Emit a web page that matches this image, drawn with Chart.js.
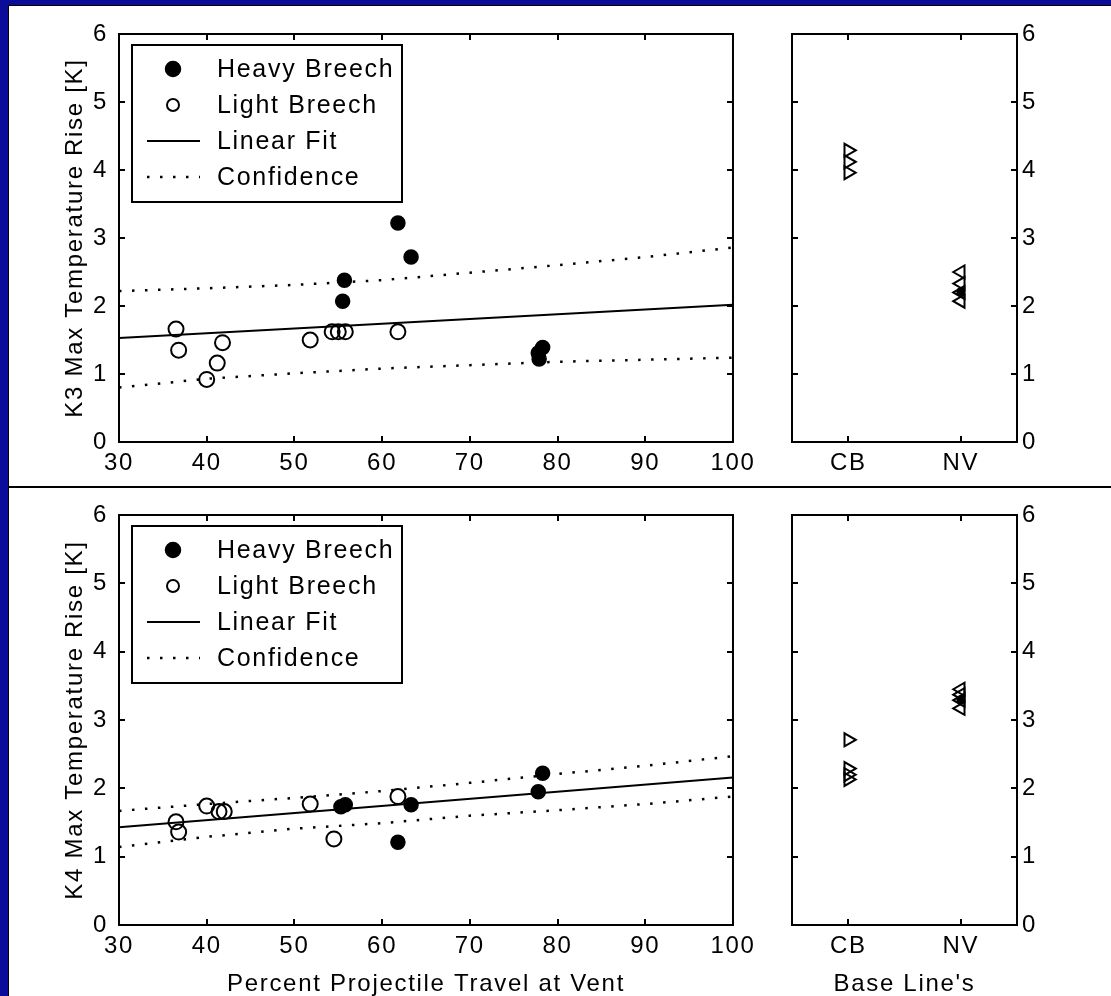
<!DOCTYPE html>
<html lang="en">
<head>
    <meta charset="UTF-8">
    <title>K3 / K4 Max Temperature Rise</title>
    <style>
        html, body {
            margin: 0;
            padding: 0;
        }

        body {
            width: 1111px;
            height: 996px;
            position: relative;
            overflow: hidden;
            background-color: #0c0c9a;
        }

        .sheet {
            position: absolute;
            left: 8px;
            top: 5px;
            right: 0;
            bottom: 0;
            background-color: #fff;
            border-top: 1px solid #000;
            border-left: 1px solid #000;
        }

        .divider {
            position: absolute;
            left: 8px;
            right: 0;
            top: 486px;
            height: 2px;
            background-color: #000;
        }

        canvas {
            position: absolute;
        }

        #k3Main { left: 0; top: 0; }
        #k3Base { left: 760px; top: 0; }
        #k4Main { left: 0; top: 487px; }
        #k4Base { left: 760px; top: 487px; }
    </style>
</head>
<body>
    <div class="sheet"></div>
    <div class="divider"></div>

    <canvas id="k3Main" width="760" height="487"></canvas>
    <canvas id="k3Base" width="351" height="487"></canvas>
    <canvas id="k4Main" width="760" height="509"></canvas>
    <canvas id="k4Base" width="351" height="509"></canvas>

    <script src="https://cdn.jsdelivr.net/npm/chart.js"></script>
    <script>
        // tick labels
        var percentTicks = [30, 40, 50, 60, 70, 80, 90, 100];
        var tempTicks = [0, 1, 2, 3, 4, 5, 6];
        var baseCats = ['CB', 'NV'];

        // K3 (top) - percent projectile travel at vent vs temperature rise
        var k3HeavyX = [55.5, 55.7, 61.8, 63.3, 77.8, 78.3, 77.9];
        var k3HeavyY = [2.07, 2.38, 3.22, 2.72, 1.31, 1.39, 1.22];
        var k3LightX = [36.5, 36.8, 40.0, 41.2, 41.8, 51.8, 54.3, 55.0, 55.8, 61.8];
        var k3LightY = [1.66, 1.35, 0.92, 1.16, 1.46, 1.50, 1.62, 1.62, 1.62, 1.62];

        // K4 (bottom)
        var k4HeavyX = [55.3, 55.8, 61.8, 63.3, 78.3, 77.8];
        var k4HeavyY = [1.73, 1.76, 1.21, 1.76, 2.22, 1.95];
        var k4LightX = [36.5, 36.8, 40.0, 41.4, 42.0, 51.8, 54.5, 61.8];
        var k4LightY = [1.51, 1.36, 1.74, 1.66, 1.66, 1.77, 1.26, 1.88];

        // linear fits
        var fitX = [30, 100];
        var k3FitY = [1.53, 2.02];
        var k4FitY = [1.43, 2.16];

        // confidence bands (read at every 10 %)
        var confX = [30, 40, 50, 60, 70, 80, 90, 100];
        var k3UpperY = [2.22, 2.26, 2.31, 2.38, 2.49, 2.60, 2.72, 2.86];
        var k3LowerY = [0.80, 0.93, 1.01, 1.08, 1.13, 1.18, 1.21, 1.24];
        var k4UpperY = [1.67, 1.77, 1.86, 1.96, 2.08, 2.21, 2.33, 2.47];
        var k4LowerY = [1.14, 1.29, 1.41, 1.49, 1.60, 1.68, 1.77, 1.88];

        // base line runs (CB = 1, NV = 2)
        var k3CbY = [4.29, 4.12, 3.96];
        var k3NvY = [2.50, 2.33, 2.20, 2.07];
        var k3NvFilledY = [2.21];
        var k4CbY = [2.71, 2.29, 2.20, 2.13];
        var k4NvY = [3.45, 3.37, 3.29, 3.17];
        var k4NvFilledY = [3.30];

        var fontFamily = 'Arial, "Liberation Sans", sans-serif';
        Chart.defaults.color = '#000';
        Chart.defaults.font.family = fontFamily;

        function pts(xs, ys) {
            return xs.map(function (x, i) { return { x: x, y: ys[i] }; });
        }

        function fixedTicks(list) {
            return function (scale) {
                scale.ticks = list.map(function (v) { return { value: v }; });
            };
        }

        // the old bitmap font is wider than Arial
        var wideText = {
            id: 'wideText',
            beforeDraw: function (chart) {
                chart.ctx.letterSpacing = '1.7px';
            }
        };

        // box + inward tick marks, matlab style
        var matlabFrame = {
            id: 'matlabFrame',
            afterDatasetsDraw: function (chart) {
                var ctx = chart.ctx;
                var a = chart.chartArea;
                var xs = chart.scales.x;
                var ys = chart.scales.y;
                ctx.save();
                ctx.strokeStyle = '#000';
                ctx.lineWidth = 2;
                ctx.beginPath();
                xs.ticks.forEach(function (t) {
                    var px = Math.round(xs.getPixelForValue(t.value));
                    ctx.moveTo(px, a.bottom);
                    ctx.lineTo(px, a.bottom - 6);
                    ctx.moveTo(px, a.top);
                    ctx.lineTo(px, a.top + 6);
                });
                ys.ticks.forEach(function (t) {
                    var py = Math.round(ys.getPixelForValue(t.value));
                    ctx.moveTo(a.left, py);
                    ctx.lineTo(a.left + 6, py);
                    ctx.moveTo(a.right, py);
                    ctx.lineTo(a.right - 6, py);
                });
                ctx.stroke();
                ctx.strokeRect(a.left, a.top, a.right - a.left, a.bottom - a.top);
                ctx.restore();
            }
        };

        // legend box in the upper left corner of the axes
        var matlabLegend = {
            id: 'matlabLegend',
            afterDraw: function (chart, args, opts) {
                if (!opts.show) return;
                var ctx = chart.ctx;
                var a = chart.chartArea;
                var bx = a.left + 13, by = a.top + 11, bw = 270, bh = 157;
                var rows = [24, 60, 96, 132];
                ctx.save();
                ctx.fillStyle = '#fff';
                ctx.fillRect(bx, by, bw, bh);
                ctx.strokeStyle = '#000';
                ctx.lineWidth = 2;
                ctx.strokeRect(bx, by, bw, bh);
                var items = chart.data.datasets.filter(function (d) { return d.inLegend; });
                items.forEach(function (ds, i) {
                    var cy = by + rows[i];
                    ctx.strokeStyle = '#000';
                    ctx.fillStyle = '#000';
                    if (ds.showLine) {
                        ctx.lineWidth = ds.borderWidth;
                        ctx.setLineDash(ds.borderDash || []);
                        ctx.beginPath();
                        ctx.moveTo(bx + 15, cy);
                        ctx.lineTo(bx + 68, cy);
                        ctx.stroke();
                        ctx.setLineDash([]);
                    } else {
                        ctx.lineWidth = ds.borderWidth;
                        ctx.beginPath();
                        ctx.arc(bx + 41, cy, ds.legendRadius, 0, Math.PI * 2);
                        if (ds.backgroundColor !== 'transparent') ctx.fill();
                        ctx.stroke();
                    }
                    ctx.font = '25px ' + fontFamily;
                    ctx.letterSpacing = '1.7px';
                    ctx.textBaseline = 'middle';
                    ctx.textAlign = 'left';
                    ctx.fillText(ds.label, bx + 85, cy + 1);
                });
                ctx.restore();
            }
        };

        function mainChart(id, heavyX, heavyY, lightX, lightY, fitY, upY, loY, yTitle, xTitle, topPad, xAxisH) {
            var ctx = document.getElementById(id).getContext('2d');
            return new Chart(ctx, {
                type: 'scatter',
                data: {
                    datasets: [{
                        label: 'Heavy Breech',
                        inLegend: true,
                        data: pts(heavyX, heavyY),
                        pointStyle: 'circle',
                        pointRadius: 7,
                        backgroundColor: '#000',
                        borderColor: '#000',
                        borderWidth: 1.5,
                        legendRadius: 7.5
                    }, {
                        label: 'Light Breech',
                        inLegend: true,
                        data: pts(lightX, lightY),
                        pointStyle: 'circle',
                        pointRadius: 7.5,
                        backgroundColor: 'transparent',
                        borderColor: '#000',
                        borderWidth: 2,
                        legendRadius: 6
                    }, {
                        label: 'Linear Fit',
                        inLegend: true,
                        data: pts(fitX, fitY),
                        showLine: true,
                        pointRadius: 0,
                        borderColor: '#000',
                        borderWidth: 2
                    }, {
                        label: 'Confidence',
                        inLegend: true,
                        data: pts(confX, upY),
                        showLine: true,
                        pointRadius: 0,
                        borderColor: '#000',
                        borderWidth: 2.5,
                        borderDash: [2.5, 10.5]
                    }, {
                        label: 'Confidence (lower)',
                        data: pts(confX, loY),
                        showLine: true,
                        pointRadius: 0,
                        borderColor: '#000',
                        borderWidth: 2.5,
                        borderDash: [2.5, 10.5]
                    }]
                },
                options: {
                    responsive: false,
                    animation: false,
                    events: [],
                    layout: { padding: { left: 0, top: topPad, right: 23, bottom: 0 } },
                    plugins: {
                        legend: { display: false },
                        tooltip: { enabled: false },
                        matlabLegend: { show: true }
                    },
                    scales: {
                        x: {
                            type: 'linear',
                            min: 30,
                            max: 100,
                            afterBuildTicks: fixedTicks(percentTicks),
                            afterFit: function (s) { s.height = xAxisH; },
                            grid: { display: false, drawTicks: false },
                            border: { display: false },
                            ticks: { font: { size: 24 }, padding: 7, autoSkip: false, maxRotation: 0 },
                            title: {
                                display: !!xTitle,
                                text: xTitle,
                                font: { size: 24, lineHeight: 1 },
                                padding: { top: 0, bottom: 0 }
                            }
                        },
                        y: {
                            type: 'linear',
                            min: 0,
                            max: 6,
                            afterBuildTicks: fixedTicks(tempTicks),
                            afterFit: function (s) { s.width = 119; },
                            grid: { display: false, drawTicks: false },
                            border: { display: false },
                            ticks: { font: { size: 24 }, padding: 11 },
                            title: {
                                display: true,
                                text: yTitle,
                                font: { size: 24, lineHeight: 1.2 },
                                padding: { top: 61, bottom: 0 }
                            }
                        }
                    }
                },
                plugins: [wideText, matlabFrame, matlabLegend]
            });
        }

        function baseChart(id, cbY, nvY, nvFilledY, xTitle, topPad, xAxisH) {
            var ctx = document.getElementById(id).getContext('2d');
            return new Chart(ctx, {
                type: 'scatter',
                data: {
                    datasets: [{
                        label: 'NV filled',
                        data: pts(nvFilledY.map(function () { return 2; }), nvFilledY),
                        pointStyle: 'circle',
                        pointRadius: 4,
                        backgroundColor: '#000',
                        borderColor: '#000',
                        borderWidth: 1
                    }, {
                        label: 'CB',
                        data: pts(cbY.map(function () { return 1; }), cbY),
                        pointStyle: 'triangle',
                        rotation: 90,
                        pointRadius: 7.5,
                        backgroundColor: 'transparent',
                        borderColor: '#000',
                        borderWidth: 2
                    }, {
                        label: 'NV',
                        data: pts(nvY.map(function () { return 2; }), nvY),
                        pointStyle: 'triangle',
                        rotation: -90,
                        pointRadius: 7.5,
                        backgroundColor: 'transparent',
                        borderColor: '#000',
                        borderWidth: 2
                    }]
                },
                options: {
                    responsive: false,
                    animation: false,
                    events: [],
                    layout: { padding: { left: 32, top: topPad, right: 0, bottom: 0 } },
                    plugins: {
                        legend: { display: false },
                        tooltip: { enabled: false },
                        matlabLegend: { show: false }
                    },
                    scales: {
                        x: {
                            type: 'linear',
                            min: 0.5,
                            max: 2.5,
                            afterBuildTicks: fixedTicks([1, 2]),
                            afterFit: function (s) { s.height = xAxisH; },
                            grid: { display: false, drawTicks: false },
                            border: { display: false },
                            ticks: {
                                font: { size: 24 },
                                padding: 7,
                                autoSkip: false,
                                maxRotation: 0,
                                callback: function (v) { return baseCats[v - 1]; }
                            },
                            title: {
                                display: !!xTitle,
                                text: xTitle,
                                font: { size: 24, lineHeight: 1 },
                                padding: { top: 0, bottom: 0 }
                            }
                        },
                        y: {
                            type: 'linear',
                            position: 'right',
                            min: 0,
                            max: 6,
                            afterBuildTicks: fixedTicks(tempTicks),
                            afterFit: function (s) { s.width = 94; },
                            grid: { display: false, drawTicks: false },
                            border: { display: false },
                            ticks: { font: { size: 24 }, padding: 5 }
                        }
                    }
                },
                plugins: [wideText, matlabFrame, matlabLegend]
            });
        }

        mainChart('k3Main', k3HeavyX, k3HeavyY, k3LightX, k3LightY, k3FitY, k3UpperY, k3LowerY,
            'K3 Max Temperature Rise [K]', '', 34, 45);
        baseChart('k3Base', k3CbY, k3NvY, k3NvFilledY, '', 34, 45);
        mainChart('k4Main', k4HeavyX, k4HeavyY, k4LightX, k4LightY, k4FitY, k4UpperY, k4LowerY,
            'K4 Max Temperature Rise [K]', 'Percent Projectile Travel at Vent', 28, 71);
        baseChart('k4Base', k4CbY, k4NvY, k4NvFilledY, "Base Line's", 28, 71);
    </script>
</body>
</html>
